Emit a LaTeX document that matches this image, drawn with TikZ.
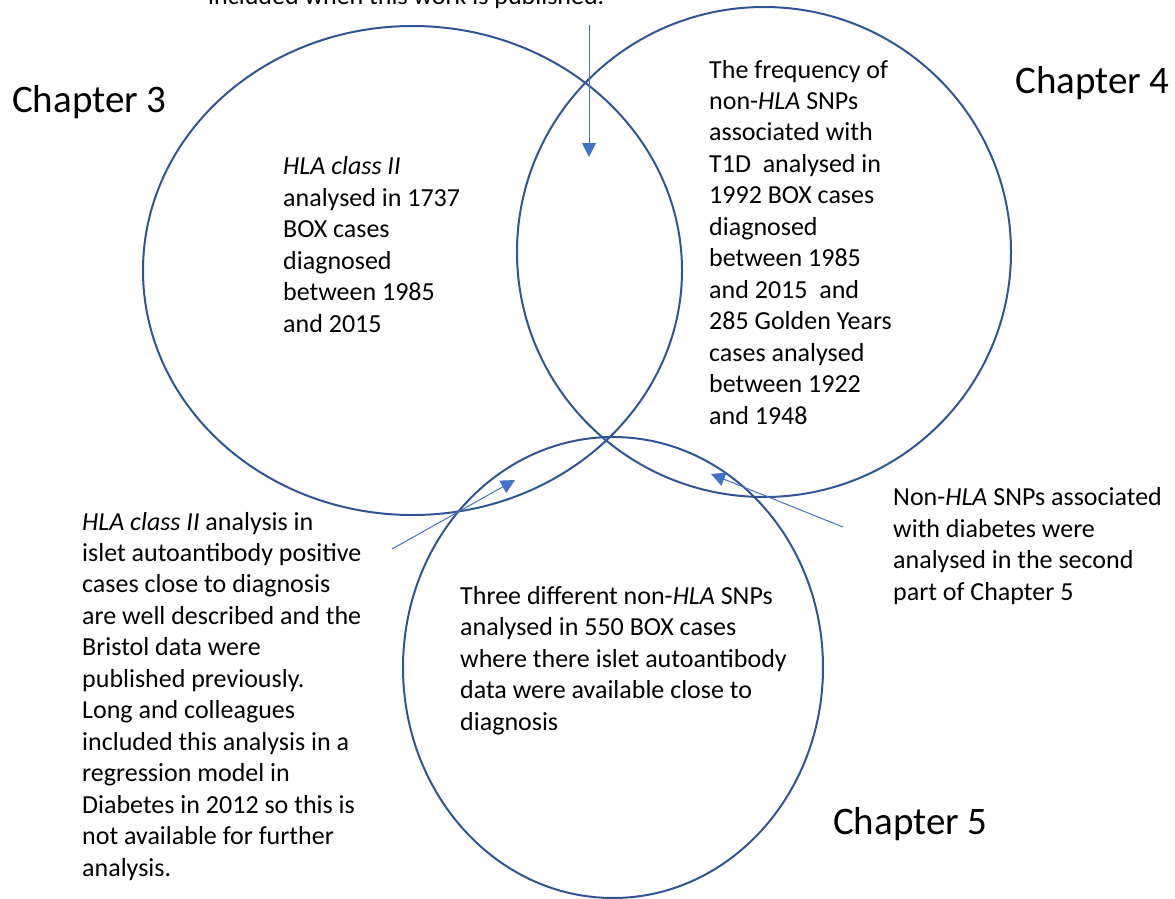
\documentclass[tikz,border=0pt]{standalone}
\usepackage{fontspec}
\setmainfont{Carlito}
\usetikzlibrary{arrows.meta}

\definecolor{setblue}{HTML}{2F5597}
\definecolor{arrowblue}{HTML}{4472C4}

\tikzset{
  setline/.style={draw=setblue, line width=2pt},
  pointer/.style={draw=arrowblue, line width=1pt, -{Triangle[length=14pt,width=14pt]}},
  % anchored at the baseline of the last line
  bodytext/.style={anchor=base west, inner sep=0pt, align=left,
    font=\fontsize{26}{31.45}\selectfont},
  chaptertext/.style={anchor=base west, inner sep=0pt,
    font=\fontsize{39}{46}\selectfont}
}

\begin{document}
\begin{tikzpicture}[x=1pt,y=-1pt]

\useasboundingbox (0,0) rectangle (1175,899);

% the three sets
\draw[setline] (412.5,270.5) ellipse [x radius=269.5, y radius=244.5];
\draw[setline] (764,252) ellipse [x radius=247, y radius=245];
\draw[setline] (613,667.5) ellipse [x radius=210, y radius=230.5];

\node[chaptertext] (ch3) at (12,112) {Chapter 3};
\node[chaptertext] (ch4) at (1015,93) {Chapter 4};
\node[chaptertext] (ch5) at (833,834) {Chapter 5};

\node[bodytext] (topnote) at (208,5) {included when this work is published.};

\node[bodytext] (hlatext) at (283,332) {\textit{HLA class II}\\
analysed in 1737\\
BOX cases\\
diagnosed\\
between 1985\\
and 2015};

\node[bodytext] (snptext) at (709,424) {The frequency of\\
non-\textit{HLA} SNPs\\
associated with\\
T1D\ \ analysed in\\
1992 BOX cases\\
diagnosed\\
between 1985\\
and 2015\ \ and\\
285 Golden Years\\
cases analysed\\
between 1922\\
and 1948};

\node[bodytext] (leftnote) at (82,876) {\textit{HLA class II} analysis in\\
islet autoantibody positive\\
cases close to diagnosis\\
are well described and the\\
Bristol data were\\
published previously.\\
Long and colleagues\\
included this analysis in a\\
regression model in\\
Diabetes in 2012 so this is\\
not available for further\\
analysis.};

\node[bodytext] (rightnote) at (893,600) {Non-\textit{HLA} SNPs associated\\
with diabetes were\\
analysed in the second\\
part of Chapter 5};

\node[bodytext] (threetext) at (460,730) {Three different non-\textit{HLA} SNPs\\
analysed in 550 BOX cases\\
where there islet autoantibody\\
data were available close to\\
diagnosis};

% pointers into the overlaps
\coordinate (topstart) at (589,25);
\coordinate (topend) at (589,157);
\coordinate (leftstart) at (392,549);
\coordinate (leftend) at (515,480);
\coordinate (rightstart) at (843,527);
\coordinate (rightend) at (711,474);

\draw[pointer] (topstart) -- (topend);
\draw[pointer] (leftstart) -- (leftend);
\draw[pointer] (rightstart) -- (rightend);

\end{tikzpicture}
\end{document}
